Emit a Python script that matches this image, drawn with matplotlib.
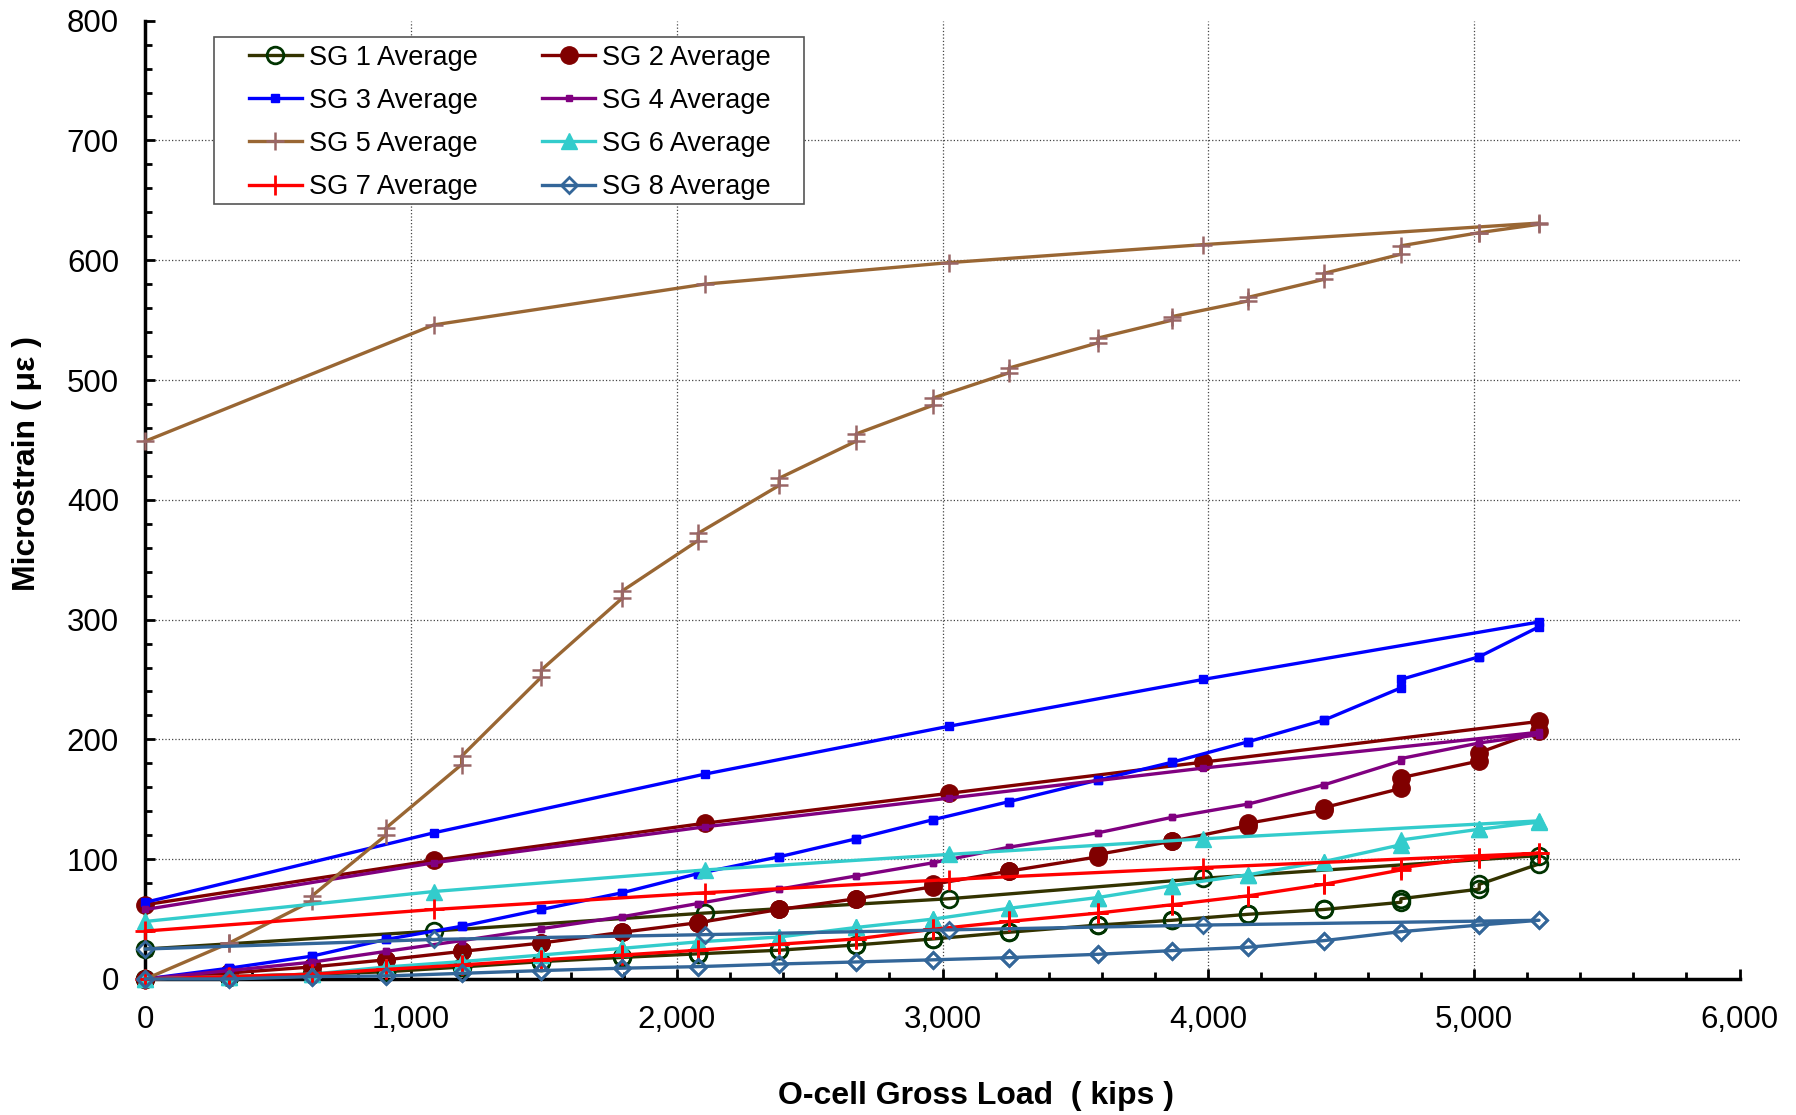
import matplotlib
matplotlib.use("Agg")
import matplotlib.pyplot as plt
from matplotlib.patches import Rectangle
from matplotlib.ticker import MultipleLocator, FuncFormatter

plt.rcParams['font.family'] = ['Liberation Sans', 'DejaVu Sans']

# load steps (kips): loading branch, then unloading branch after the peak
load_up = [0, 315, 625, 905, 1190, 1490, 1795, 2080, 2385, 2675, 2965,
           3250, 3585, 3865, 4150, 4435, 4725, 5020, 5245]
load_down = [3980, 3025, 2105, 1085, 0]

# strain readings (microstrain); *_hold is the second reading at the same step
sg1_up = [0, 2, 4, 6, 10, 14.5, 18, 21, 24, 28.4, 33.4, 39, 45, 49, 54, 58, 64, 75, 96]
sg1_hold = [0, 2, 4, 6, 10, 14.5, 18, 21, 24, 28.4, 33.4, 39, 45, 49, 54, 58, 67, 79, 103]
sg1_down = [84, 67, 55, 40, 25]

sg2_up = [0, 5, 10, 16, 23, 30, 39, 47, 58, 67, 77, 90, 102, 115, 128, 141, 159, 182, 207]
sg2_hold = [0, 5, 10, 16, 23, 30, 39, 47, 58, 67, 79, 90, 104, 115, 130, 143, 168, 189, 215]
sg2_down = [181, 155, 130, 99, 62]

sg3_up = [0, 9, 19, 33, 44, 58, 72, 88, 102, 117, 133, 148, 166, 181, 198, 216, 243, 269, 294]
sg3_hold = [0, 9, 19, 33, 44, 58, 72, 88, 102, 117, 133, 148, 166, 181, 198, 216, 250, 269, 298]
sg3_down = [250, 211, 171, 122, 64]

sg4_up = [0, 7, 14, 23, 32, 42, 52, 63, 75, 86, 97, 110, 122, 135, 146, 162, 182, 197, 204]
sg4_hold = [0, 7, 14, 23, 32, 42, 52, 63, 75, 86, 97, 110, 122, 135, 146, 162, 184, 197, 206]
sg4_down = [176, 151, 127, 97, 58]

sg5_up = [0, 30, 65, 120, 179, 252, 318, 366, 412, 449, 479, 506, 531, 550, 566, 584, 605, 623, 630]
sg5_hold = [0, 30, 69, 126, 186, 258, 324, 372, 418, 455, 485, 510, 535, 553, 569, 589, 612, 623, 631]
sg5_down = [613, 598, 580, 546, 449]

sg6_up = [0, 2, 4, 10, 14.5, 20, 25.6, 31, 35, 43, 50, 59, 68, 78, 87, 98, 112, 125, 131]
sg6_hold = [0, 2, 4, 10, 14.5, 20, 25.6, 31, 35, 43, 50, 59, 68, 78, 87, 98, 116, 125, 132]
sg6_down = [117, 104, 91, 73, 48]

sg7_up = [0, 2, 4, 8, 11.7, 16, 20, 24, 29, 33.4, 41.5, 48, 55, 62, 69.4, 79, 91, 101, 105]
sg7_hold = [0, 2, 4, 8, 11.7, 16, 20, 24, 29, 33.4, 41.5, 48, 55, 62, 69.4, 79, 93, 101, 105]
sg7_down = [93, 83, 72, 58, 40]

sg8_up = [0, 0, 2, 2.5, 4.7, 7, 9, 10.3, 12.5, 14.2, 16, 17.8, 20.6, 23.7, 26.5, 32, 39.5, 45, 49]
sg8_hold = sg8_up
sg8_down = [45, 41, 37, 33, 25]

series = [
    ("SG 1 Average", sg1_up, sg1_hold, sg1_down,
     dict(color='#333300', marker='o', ms=12, mfc='none', mec='#003300', mew=2)),
    ("SG 2 Average", sg2_up, sg2_hold, sg2_down,
     dict(color='#800000', marker='o', ms=12.5, mfc='#800000', mec='#800000')),
    ("SG 3 Average", sg3_up, sg3_hold, sg3_down,
     dict(color='#0000FF', marker='s', ms=5.5, mfc='#0000FF', mec='#0000FF')),
    ("SG 4 Average", sg4_up, sg4_hold, sg4_down,
     dict(color='#800080', marker='s', ms=5, mfc='#800080', mec='#800080')),
    ("SG 5 Average", sg5_up, sg5_hold, sg5_down,
     dict(color='#996633', marker='+', ms=13, mec='#996666', mew=1.8)),
    ("SG 6 Average", sg6_up, sg6_hold, sg6_down,
     dict(color='#33CCCC', marker='^', ms=12, mfc='#33CCCC', mec='#33CCCC')),
    ("SG 7 Average", sg7_up, sg7_hold, sg7_down,
     dict(color='#FF0000', marker='+', ms=14, mec='#FF0000', mew=2)),
    ("SG 8 Average", sg8_up, sg8_hold, sg8_down,
     dict(color='#336699', marker='D', ms=8, mfc='none', mec='#336699', mew=2)),
]

fig = plt.figure(figsize=(17.96, 11.15), dpi=100)
ax = fig.add_axes([0.081, 0.122, 0.8876, 0.8595])

lines = {}
for name, up, hold, down, style in series:
    xs, ys = [], []
    for load, a, b in zip(load_up, up, hold):
        xs += [load, load]
        ys += [a, b]
    xs += load_down
    ys += down
    line, = ax.plot(xs, ys, lw=2.4, label=name, clip_on=False, zorder=3, **style)
    lines[name] = line

ax.set_xlim(0, 6000)
ax.set_ylim(0, 800)
ax.xaxis.set_major_locator(MultipleLocator(1000))
ax.xaxis.set_minor_locator(MultipleLocator(200))
ax.yaxis.set_major_locator(MultipleLocator(100))
ax.yaxis.set_minor_locator(MultipleLocator(20))
ax.xaxis.set_major_formatter(FuncFormatter(lambda v, p: f"{int(v):,}"))

ax.tick_params(which='both', direction='in', width=2, labelsize=22.5, pad=19)
ax.tick_params(which='major', length=7)
ax.tick_params(which='minor', length=5)

# dotted gridlines inside the plot area only (none along the outer edges)
for gx in range(1000, 6000, 1000):
    ax.axvline(gx, linestyle=':', color='#444444', lw=0.9, zorder=1)
for gy in range(100, 800, 100):
    ax.axhline(gy, linestyle=':', color='#444444', lw=0.9, zorder=1)

for side in ('top', 'right'):
    ax.spines[side].set_visible(False)
for side in ('left', 'bottom'):
    ax.spines[side].set_linewidth(2.5)

ax.set_xlabel("O-cell Gross Load  ( kips )", fontsize=23, fontweight='bold', va='center')
ax.set_ylabel("Microstrain ( \u03bc\u03b5 )", fontsize=23, fontweight='bold', va='center')
ax.xaxis.set_label_coords(0.521, -0.122)
ax.yaxis.set_label_coords(-0.0745, 0.538)

# legend fills column-wise, so order handles to read SG1|SG2 across rows
order = ["SG 1 Average", "SG 3 Average", "SG 5 Average", "SG 7 Average",
         "SG 2 Average", "SG 4 Average", "SG 6 Average", "SG 8 Average"]
leg = ax.legend([lines[n] for n in order], order, ncol=2, loc='upper left',
                bbox_to_anchor=(0.1386, 0.9598), bbox_transform=fig.transFigure,
                fontsize=19.5, frameon=False, borderaxespad=0, borderpad=0,
                handlelength=1.96, handletextpad=0.26, columnspacing=2.37,
                labelspacing=0.63)
leg.set_zorder(6)
legend_box = Rectangle((0.1192, 0.817), 0.3285, 0.1498, transform=fig.transFigure,
                       facecolor='white', edgecolor='#555555', lw=1.2,
                       clip_on=False, zorder=5)
ax.add_patch(legend_box)

fig.savefig("out.png", dpi=100)
